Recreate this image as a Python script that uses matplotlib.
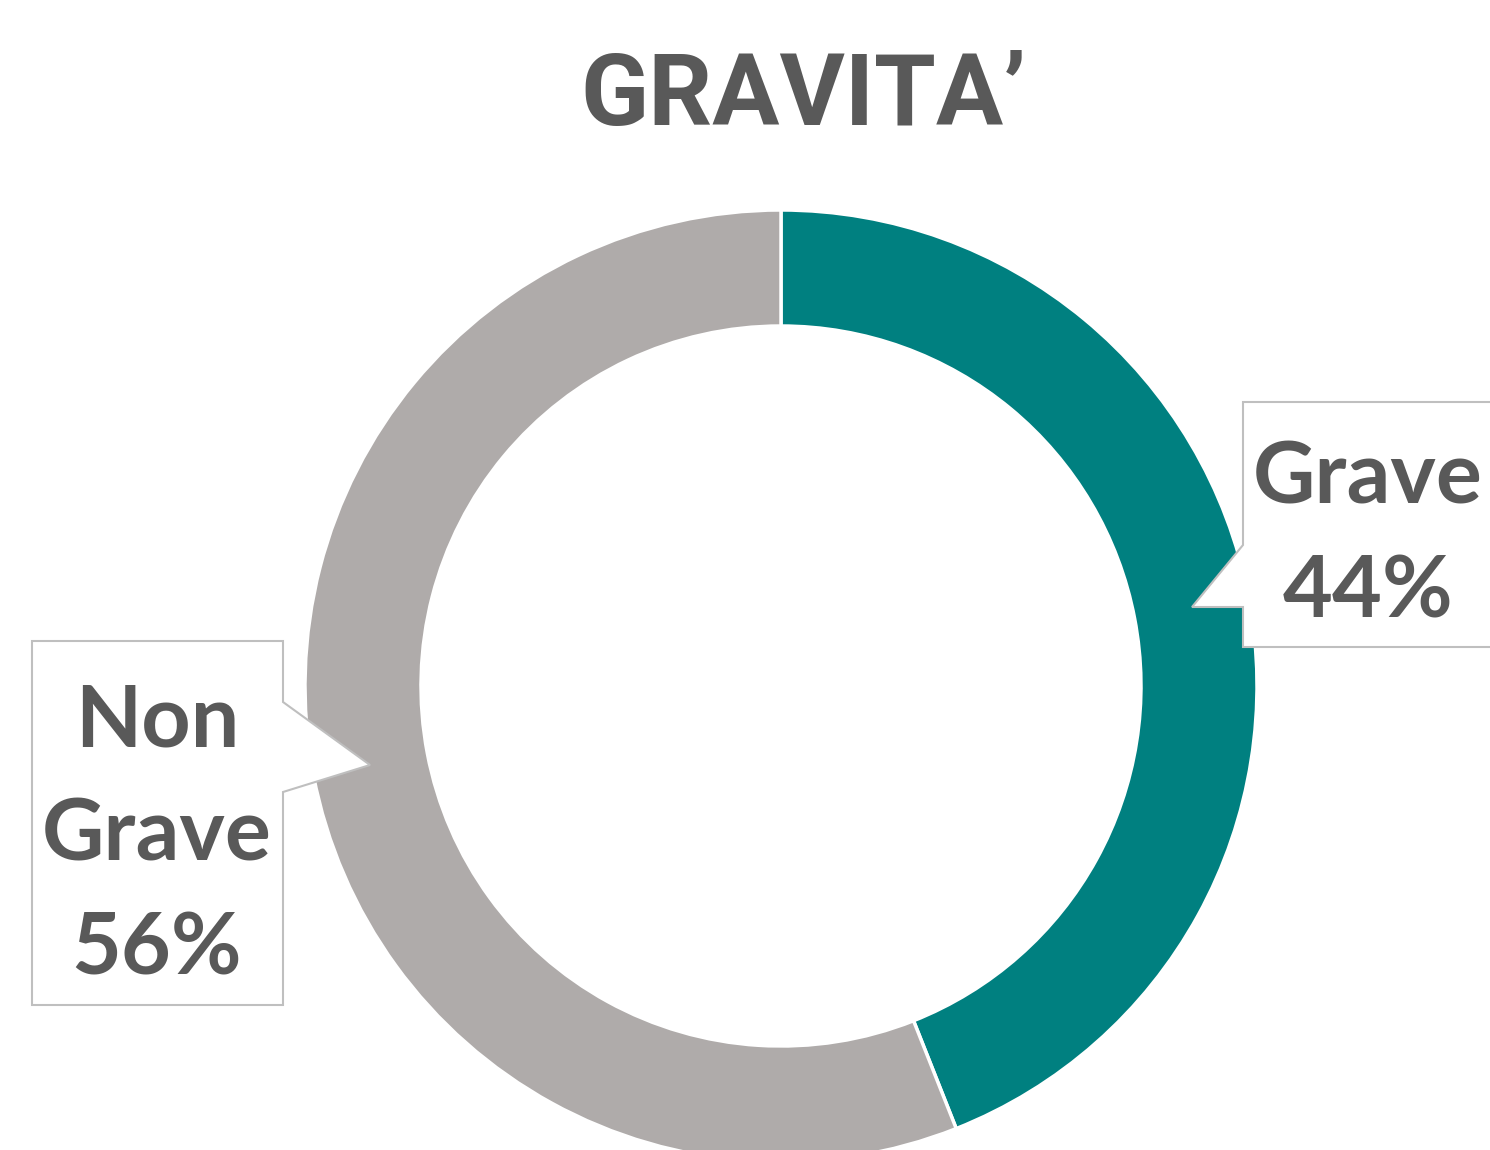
import matplotlib
matplotlib.use("Agg")
import matplotlib.pyplot as plt
from matplotlib.patches import Polygon, Rectangle

categories = ["Grave", "Non Grave"]
shares = [44, 56]
colors = ["#008080", "#AFABAA"]
title = "GRAVITA\u2019"

W, H = 1490, 1150
TXT = "#595959"


def py(y):
    # pixel row (from top) -> data y
    return H - y


fig = plt.figure(figsize=(W / 100, H / 100), dpi=100)
ax = fig.add_axes([0, 0, 1, 1])

ax.pie(shares, colors=colors, startangle=90, counterclock=False,
       center=(781, py(686)), radius=476,
       wedgeprops=dict(width=116, edgecolor="white", linewidth=2.5))
ax.set_xlim(0, W)
ax.set_ylim(0, H)
ax.set_aspect("auto")
ax.axis("off")

# title, cut on the right like the source image
t = ax.text(580, py(125), title, fontsize=72, fontweight="bold",
            family="Roboto", color=TXT, ha="left", va="baseline")
clip = Rectangle((0, 0), 1028, H, transform=ax.transData, visible=False)
ax.add_patch(clip)
t.set_clip_path(clip)

# callout boxes
box_kw = dict(closed=True, facecolor="white", edgecolor="#BFBFBF",
              linewidth=1.5, zorder=3)
grave_box = [(1243, 402), (1500, 402), (1500, 647), (1243, 647),
             (1243, 607), (1192, 607), (1243, 545)]
non_box = [(32, 641), (283, 641), (283, 702), (370, 765), (283, 792),
           (283, 1005), (32, 1005)]
ax.add_patch(Polygon([(x, py(y)) for x, y in grave_box], **box_kw))
ax.add_patch(Polygon([(x, py(y)) for x, y in non_box], **box_kw))

lab_kw = dict(fontsize=62, fontweight="bold", family="Lato", color=TXT,
              ha="center", va="center", linespacing=1.55, zorder=4)
ax.text(1368, py(536), "%s\n%d%%" % (categories[0], shares[0]), **lab_kw)
ax.text(157, py(836), "Non\nGrave\n%d%%" % shares[1], **lab_kw)

fig.savefig("out.png", dpi=100)
